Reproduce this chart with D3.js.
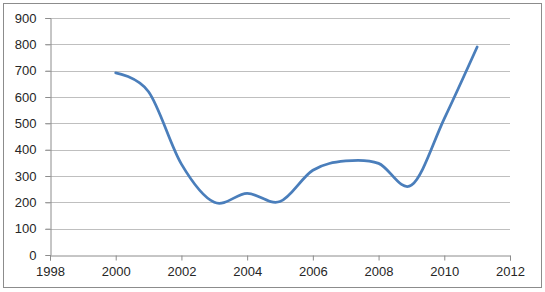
<!DOCTYPE html>
<html>
<head>
<meta charset="utf-8">
<script src="https://cdn.jsdelivr.net/npm/d3@7"></script>
<style>
  body { margin: 0; background: #fff; }
  svg { display: block; font-family: "Liberation Sans", Arial, sans-serif; }
</style>
</head>
<body>
<div id="chart"></div>
<script>
const years = [2000, 2001, 2002, 2003, 2004, 2005, 2006, 2007, 2008, 2009, 2010, 2011];
const values = [692, 620, 345, 200, 234, 203, 322, 357, 348, 265, 518, 790];
const xTicks = [1998, 2000, 2002, 2004, 2006, 2008, 2010, 2012];
const yTicks = [0, 100, 200, 300, 400, 500, 600, 700, 800, 900];

const W = 545, H = 292;
const m = { left: 50, right: 35, top: 18, bottom: 37 };

const svg = d3.select('#chart').append('svg')
  .attr('width', W).attr('height', H);

// outer frame
svg.append('rect')
  .attr('x', 3.5).attr('y', 3.5).attr('width', W - 7).attr('height', H - 8)
  .attr('fill', '#fff').attr('stroke', '#8c8c8c').attr('stroke-width', 1);

const x = d3.scaleLinear().domain([1998, 2012]).range([m.left, W - m.right]);
const y = d3.scaleLinear().domain([0, 900]).range([H - m.bottom, m.top]);

// gridlines
svg.append('g').selectAll('line')
  .data(yTicks.filter(d => d > 0)).join('line')
    .attr('x1', m.left - 5).attr('x2', x(2012))
    .attr('y1', d => Math.round(y(d)) + 0.5).attr('y2', d => Math.round(y(d)) + 0.5)
    .attr('stroke', '#bfbfbf').attr('stroke-width', 1);

// y axis
const yAxis = svg.append('g')
  .attr('transform', `translate(${m.left + 0.5},0)`)
  .call(d3.axisLeft(y).tickValues(yTicks).tickSize(5).tickPadding(9));
yAxis.select('.domain').attr('stroke', '#8c8c8c');
yAxis.selectAll('.tick line').attr('stroke', '#8c8c8c');
yAxis.selectAll('.tick text').attr('font-size', '13px').attr('fill', '#262626');

// x axis
const xAxis = svg.append('g')
  .attr('transform', `translate(0,${Math.round(y(0)) + 0.5})`)
  .call(d3.axisBottom(x).tickValues(xTicks).tickFormat(d3.format('d')).tickSize(5).tickPadding(6));
xAxis.select('.domain').attr('stroke', '#8c8c8c');
xAxis.selectAll('.tick line').attr('stroke', '#8c8c8c');
xAxis.selectAll('.tick text').attr('font-size', '13px').attr('fill', '#262626');

// smoothed line
const line = d3.line()
  .x((d, i) => x(years[i]))
  .y(d => y(d))
  .curve(d3.curveCardinal.tension(0));

svg.append('path')
  .datum(values)
  .attr('d', line)
  .attr('fill', 'none')
  .attr('stroke', '#4a7ebb')
  .attr('stroke-width', 2.75)
  .attr('stroke-linecap', 'round');
</script>
</body>
</html>
